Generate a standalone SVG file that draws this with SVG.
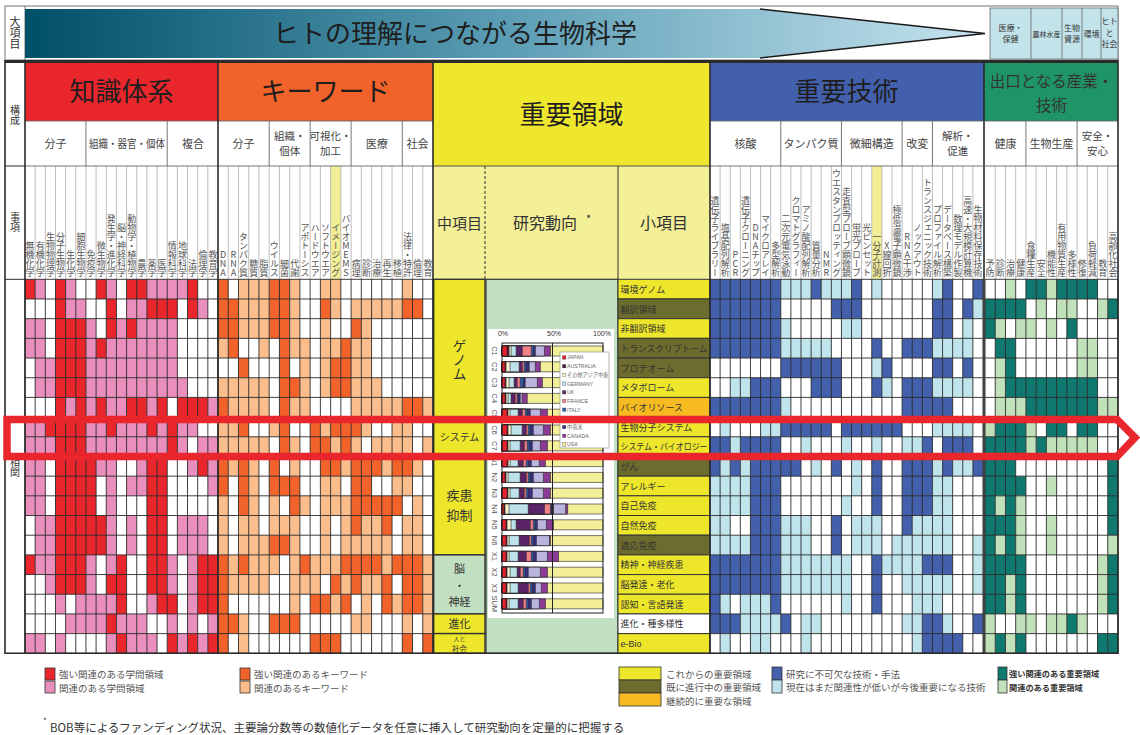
<svg xmlns="http://www.w3.org/2000/svg" width="1140" height="735" viewBox="0 0 1140 735">
<defs>
<linearGradient id="arrowGrad" x1="25" y1="0" x2="985" y2="0" gradientUnits="userSpaceOnUse">
<stop offset="0" stop-color="#004f68"/>
<stop offset="0.5" stop-color="#5b9db5"/>
<stop offset="1" stop-color="#c6e3ee"/>
</linearGradient>
</defs>
<style>
text{font-family:"Noto Sans CJK JP","Noto Sans",sans-serif;fill:#333}
.lat{font-family:"Liberation Sans",Arial,sans-serif}
.v{writing-mode:vertical-rl;text-orientation:upright;text-anchor:end;font-size:9px;fill:#555}
.vm{writing-mode:vertical-rl;text-orientation:upright;text-anchor:middle}
.ttl{font-size:26px;text-anchor:middle;fill:#1e1e1e}
.sub{font-size:11px;text-anchor:middle;fill:#444}
.sub2{font-size:10.5px;text-anchor:middle;fill:#444}
.gl{fill:none;stroke:#2b2b2b;stroke-width:0.9;vector-effect:non-scaling-stroke}
.hl{fill:none;stroke:#a0a0a0;stroke-width:0.7;vector-effect:non-scaling-stroke}
.ml{fill:none;stroke:#666;stroke-width:0.9;vector-effect:non-scaling-stroke}
.R{fill:#e9262c}.P{fill:#ea8fbd}.O{fill:#f1632b}.L{fill:#fbbd8b}.B{fill:#4360ad}.C{fill:#bfe4ec}.G{fill:#10796f}.g{fill:#c1e1bb}
.Y{fill:#ede62b}.Ol{fill:#6b6c2e}.Gd{fill:#f7bb22}
.item{font-size:9px;fill:#333}
.leg{font-size:9.5px;fill:#555}
.bar{stroke:#222;stroke-width:0.6;vector-effect:non-scaling-stroke}
.lg{font-size:5.2px;fill:#666}
.sw{stroke:#333;stroke-width:0.3}
.cl{font-size:7.5px;fill:#555;text-anchor:middle;dominant-baseline:central}
.box{stroke:#333;stroke-width:1.4}
</style>

<g id="banner">
<rect x="5" y="6" width="1113" height="54" fill="#fff" stroke="#777" stroke-width="1"/>
<line x1="25" y1="6" x2="25" y2="60" stroke="#777"/>
<text class="vm" x="15" y="33" font-size="11" fill="#444">大項目</text>
<path d="M25 9H760L985 33.5L760 58H25Z" fill="url(#arrowGrad)"/>
<path d="M760 9L985 33.5L760 58" fill="none" stroke="#1a1a1a" stroke-width="1.6"/>
<text class="ttl" x="455" y="43">ヒトの理解につながる生物科学</text>
<g id="banner-categories">
<rect x="990" y="8" width="128" height="51" fill="#c3e3eb" stroke="#666" stroke-width="0.8"/>
<path d="M1031 8V59M1062 8V59M1082 8V59M1101 8V59" stroke="#666" stroke-width="0.8"/>
<text font-size="8" text-anchor="middle" fill="#444"><tspan x="1010.5" y="31">医療・</tspan><tspan x="1010.5" y="42">保健</tspan></text>
<text x="1046.5" y="37" font-size="7" text-anchor="middle" fill="#444">農林水産</text>
<text font-size="8" text-anchor="middle" fill="#444"><tspan x="1072" y="31">生物</tspan><tspan x="1072" y="42">資源</tspan></text>
<text x="1091.5" y="37" font-size="8" text-anchor="middle" fill="#444">環境</text>
<text font-size="8" text-anchor="middle" fill="#444"><tspan x="1109.5" y="24">ヒト</tspan><tspan x="1109.5" y="35.5">と</tspan><tspan x="1109.5" y="47">社会</tspan></text>
</g>
</g>
<rect x="5" y="60" width="1113" height="3" fill="#2b2b2b"/>

<g id="left-labels">
<rect x="5" y="63" width="20" height="590.3" fill="#fff"/>
<text class="vm" x="15" y="115" font-size="10" fill="#555">構成</text>
<text class="vm" x="15" y="222" font-size="10" fill="#555">事項</text>
<text class="vm" x="15" y="467" font-size="10" fill="#555">相関</text>
</g>

<g id="sec-knowledge">
<rect x="25" y="63" width="193" height="58" class="R"/>
<text class="ttl" x="121.5" y="101">知識体系</text>
<rect x="25" y="121" width="193" height="158.3" fill="#fff"/>
<text class="sub" x="55.5" y="147.5">分子</text>
<text class="sub" x="127" y="147.5" textLength="76" lengthAdjust="spacingAndGlyphs">組織・器官・個体</text>
<text class="sub" x="193" y="147.5">複合</text>
<text class="v" x="30.1" y="277">無機化学</text>
<text class="v" x="40.2" y="277">有機化学</text>
<text class="v" x="50.4" y="277">生物物理学</text>
<text class="v" x="60.6" y="277">分子生物学</text>
<text class="v" x="70.7" y="277">生化学</text>
<text class="v" x="80.9" y="277">細胞生物学</text>
<text class="v" x="91.0" y="277">免疫学</text>
<text class="v" x="101.2" y="277">微生物学</text>
<text class="v" x="111.3" y="277">発生学・進化学</text>
<text class="v" x="121.5" y="277">脳・神経科学</text>
<text class="v" x="131.7" y="277">動物学・植物学</text>
<text class="v" x="141.8" y="277">農学</text>
<text class="v" x="152.0" y="277">薬学</text>
<text class="v" x="162.1" y="277">医学</text>
<text class="v" x="172.3" y="277">情報科学</text>
<text class="v" x="182.5" y="277">地球科学</text>
<text class="v" x="192.6" y="277">法学</text>
<text class="v" x="202.8" y="277">倫理学</text>
<text class="v" x="212.9" y="277">教育学</text>
<g transform="translate(25,279.3) scale(10.158,19.684)">
<rect width="19" height="19" fill="#fff"/>
<path class="R" d="M0 0h1v1h-1zM3 0h1v1h-1zM7 0h1v1h-1zM10 0h2v1h-2zM16 0h1v1h-1zM3 1h1v1h-1zM8 1h1v1h-1zM12 1h3v1h-3zM16 1h1v1h-1zM3 2h3v1h-3zM8 2h1v1h-1zM10 2h1v1h-1zM3 3h3v1h-3zM7 3h1v1h-1zM3 4h3v1h-3zM3 5h3v1h-3zM3 6h1v1h-1zM5 6h1v1h-1zM7 6h1v1h-1zM10 6h2v1h-2zM13 6h1v1h-1zM15 6h3v1h-3zM2 7h4v1h-4zM8 7h1v1h-1zM12 7h1v1h-1zM14 7h1v1h-1zM3 8h3v1h-3zM14 8h1v1h-1zM3 9h4v1h-4zM12 9h2v1h-2zM17 9h1v1h-1zM3 10h4v1h-4zM12 10h2v1h-2zM3 11h4v1h-4zM12 11h2v1h-2zM3 12h5v1h-5zM12 12h2v1h-2zM3 13h5v1h-5zM12 13h2v1h-2zM0 14h1v1h-1zM3 14h3v1h-3zM9 14h1v1h-1zM12 14h2v1h-2zM17 14h2v1h-2zM3 15h3v1h-3zM8 15h2v1h-2zM12 15h2v1h-2zM17 15h2v1h-2zM9 16h1v1h-1zM13 16h2v1h-2zM17 16h2v1h-2zM8 17h1v1h-1zM9 18h1v1h-1zM14 18h1v1h-1zM16 18h1v1h-1zM18 18h1v1h-1z"/>
<path class="P" d="M1 0h1v1h-1zM4 0h1v1h-1zM8 0h1v1h-1zM12 0h4v1h-4zM4 1h2v1h-2zM10 1h2v1h-2zM17 1h1v1h-1zM0 2h2v1h-2zM6 2h1v1h-1zM9 2h1v1h-1zM11 2h4v1h-4zM0 3h2v1h-2zM6 3h1v1h-1zM8 3h7v1h-7zM1 4h2v1h-2zM6 4h9v1h-9zM1 5h2v1h-2zM6 5h10v1h-10zM4 6h1v1h-1zM6 6h1v1h-1zM8 6h2v1h-2zM12 6h1v1h-1zM18 6h1v1h-1zM0 7h2v1h-2zM6 7h2v1h-2zM9 7h3v1h-3zM13 7h1v1h-1zM15 7h2v1h-2zM0 8h3v1h-3zM6 8h8v1h-8zM15 8h1v1h-1zM17 8h2v1h-2zM0 9h2v1h-2zM7 9h2v1h-2zM11 9h1v1h-1zM16 9h1v1h-1zM18 9h1v1h-1zM0 10h2v1h-2zM8 10h1v1h-1zM10 10h2v1h-2zM18 10h1v1h-1zM0 11h2v1h-2zM8 11h1v1h-1zM1 12h2v1h-2zM8 12h1v1h-1zM10 12h1v1h-1zM15 12h3v1h-3zM1 13h2v1h-2zM8 13h1v1h-1zM10 13h1v1h-1zM15 13h3v1h-3zM1 14h2v1h-2zM6 14h1v1h-1zM8 14h1v1h-1zM14 14h1v1h-1zM16 14h1v1h-1zM2 15h1v1h-1zM6 15h1v1h-1zM14 15h1v1h-1zM16 15h1v1h-1zM3 16h1v1h-1zM5 16h4v1h-4zM12 16h1v1h-1zM16 16h1v1h-1zM4 17h4v1h-4zM9 17h3v1h-3zM14 17h1v1h-1zM16 17h1v1h-1zM18 17h1v1h-1zM0 18h2v1h-2zM3 18h1v1h-1zM8 18h1v1h-1zM10 18h3v1h-3zM15 18h1v1h-1zM17 18h1v1h-1z"/>
<path class="hl" d="M1 -5.756V0M2 -5.756V0M3 -5.756V0M4 -5.756V0M5 -5.756V0M6 -5.756V0M7 -5.756V0M8 -5.756V0M9 -5.756V0M10 -5.756V0M11 -5.756V0M12 -5.756V0M13 -5.756V0M14 -5.756V0M15 -5.756V0M16 -5.756V0M17 -5.756V0M18 -5.756V0"/>
<path class="ml" d="M0 -8.042H19M0 -5.756H19M6 -8.042V-5.756M14 -8.042V-5.756"/>
<path class="gl" d="M0 0V19M1 0V19M2 0V19M3 0V19M4 0V19M5 0V19M6 0V19M7 0V19M8 0V19M9 0V19M10 0V19M11 0V19M12 0V19M13 0V19M14 0V19M15 0V19M16 0V19M17 0V19M18 0V19M19 0V19M0 0H19M0 1H19M0 2H19M0 3H19M0 4H19M0 5H19M0 6H19M0 7H19M0 8H19M0 9H19M0 10H19M0 11H19M0 12H19M0 13H19M0 14H19M0 15H19M0 16H19M0 17H19M0 18H19M0 19H19"/>
</g>
</g>

<g id="sec-keywords">
<rect x="218" y="63" width="215" height="58" class="O"/>
<text class="ttl" x="325.5" y="101">キーワード</text>
<rect x="218" y="121" width="215" height="158.3" fill="#fff"/>
<rect x="330.6" y="166" width="10.24" height="113.3" fill="#f3ef96"/>
<text class="sub" x="243.6" y="147.5">分子</text>
<text class="sub2"><tspan x="289.7" y="140">組織・</tspan><tspan x="289.7" y="155">個体</tspan></text>
<text class="sub2"><tspan x="330.6" y="140">可視化・</tspan><tspan x="330.6" y="155">加工</tspan></text>
<text class="sub" x="376.7" y="147.5">医療</text>
<text class="sub" x="417.6" y="147.5">社会</text>
<text class="v" x="223.1" y="277">DNA</text>
<text class="v" x="233.4" y="277">RNA</text>
<text class="v" x="243.6" y="277">タンパク質</text>
<text class="v" x="253.8" y="277">糖質</text>
<text class="v" x="264.1" y="277">脂質</text>
<text class="v" x="274.3" y="277">ウイルス</text>
<text class="v" x="284.5" y="277">細菌</text>
<text class="v" x="294.8" y="277">代謝</text>
<text class="v" x="305.0" y="277">アポトーシス</text>
<text class="v" x="315.3" y="277">ハードウエア</text>
<text class="v" x="325.5" y="277">ソフトウエア</text>
<text class="v" x="335.7" y="277">イメージング</text>
<text class="v" x="346.0" y="277">バイオMEMS</text>
<text class="v" x="356.2" y="277">病理</text>
<text class="v" x="366.5" y="277">診断</text>
<text class="v" x="376.7" y="277">治療</text>
<text class="v" x="386.9" y="277">再生</text>
<text class="v" x="397.2" y="277">移植</text>
<text class="v" x="407.4" y="277">法律・特許</text>
<text class="v" x="417.6" y="277">倫理</text>
<text class="v" x="427.9" y="277">教育</text>
<g transform="translate(218,279.3) scale(10.238,19.684)">
<rect width="21" height="19" fill="#fff"/>
<path class="O" d="M0 0h1v1h-1zM5 0h2v1h-2zM0 1h2v1h-2zM5 1h2v1h-2zM10 1h1v1h-1zM18 1h2v1h-2zM0 2h2v1h-2zM5 2h2v1h-2zM13 2h1v1h-1zM1 3h1v1h-1zM6 3h1v1h-1zM12 3h1v1h-1zM2 4h1v1h-1zM6 4h1v1h-1zM11 4h2v1h-2zM6 5h2v1h-2zM11 5h2v1h-2zM0 6h1v1h-1zM6 6h1v1h-1zM18 6h2v1h-2zM2 7h1v1h-1zM6 7h1v1h-1zM9 7h1v1h-1zM11 7h3v1h-3zM6 8h1v1h-1zM9 8h2v1h-2zM12 8h1v1h-1zM0 9h1v1h-1zM2 9h1v1h-1zM5 9h1v1h-1zM10 9h2v1h-2zM13 9h3v1h-3zM17 9h2v1h-2zM0 10h1v1h-1zM2 10h1v1h-1zM5 10h3v1h-3zM13 10h2v1h-2zM2 11h1v1h-1zM7 11h1v1h-1zM13 11h5v1h-5zM13 12h1v1h-1zM16 12h1v1h-1zM5 13h2v1h-2zM0 14h1v1h-1zM2 14h1v1h-1zM8 14h1v1h-1zM12 14h4v1h-4zM17 14h3v1h-3zM0 15h1v1h-1zM11 15h1v1h-1zM13 15h1v1h-1zM16 15h1v1h-1zM18 15h2v1h-2zM0 16h1v1h-1zM9 16h2v1h-2zM12 16h1v1h-1zM16 16h1v1h-1zM18 16h2v1h-2zM0 17h2v1h-2zM5 17h3v1h-3zM0 18h1v1h-1zM9 18h3v1h-3zM18 18h1v1h-1zM20 18h1v1h-1z"/>
<path class="L" d="M2 0h3v1h-3zM7 0h1v1h-1zM10 0h2v1h-2zM18 0h1v1h-1zM2 1h3v1h-3zM7 1h1v1h-1zM11 1h1v1h-1zM13 1h5v1h-5zM2 2h3v1h-3zM7 2h1v1h-1zM10 2h1v1h-1zM14 2h1v1h-1zM0 3h1v1h-1zM4 3h1v1h-1zM7 3h2v1h-2zM10 3h2v1h-2zM13 3h2v1h-2zM8 4h1v1h-1zM10 4h1v1h-1zM13 4h2v1h-2zM0 5h5v1h-5zM8 5h1v1h-1zM10 5h1v1h-1zM13 5h3v1h-3zM1 6h4v1h-4zM7 6h2v1h-2zM13 6h5v1h-5zM20 6h1v1h-1zM0 7h2v1h-2zM5 7h1v1h-1zM10 7h1v1h-1zM14 7h1v1h-1zM17 7h2v1h-2zM0 8h5v1h-5zM7 8h1v1h-1zM11 8h1v1h-1zM13 8h1v1h-1zM15 8h4v1h-4zM20 8h1v1h-1zM1 9h1v1h-1zM3 9h1v1h-1zM7 9h1v1h-1zM12 9h1v1h-1zM16 9h1v1h-1zM19 9h1v1h-1zM3 10h1v1h-1zM10 10h2v1h-2zM17 10h2v1h-2zM0 11h1v1h-1zM3 11h1v1h-1zM5 11h1v1h-1zM8 11h1v1h-1zM10 11h3v1h-3zM19 11h1v1h-1zM0 12h1v1h-1zM2 12h2v1h-2zM5 12h3v1h-3zM10 12h1v1h-1zM12 12h1v1h-1zM14 12h2v1h-2zM18 12h2v1h-2zM0 13h1v1h-1zM2 13h3v1h-3zM7 13h1v1h-1zM10 13h1v1h-1zM12 13h5v1h-5zM18 13h2v1h-2zM1 14h1v1h-1zM3 14h3v1h-3zM7 14h1v1h-1zM9 14h3v1h-3zM16 14h1v1h-1zM20 14h1v1h-1zM1 15h4v1h-4zM7 15h3v1h-3zM12 15h1v1h-1zM14 15h2v1h-2zM20 15h1v1h-1zM7 16h1v1h-1zM11 16h1v1h-1zM14 16h1v1h-1zM17 16h1v1h-1zM20 16h1v1h-1zM2 17h1v1h-1zM13 17h2v1h-2zM18 17h1v1h-1zM20 17h1v1h-1zM2 18h1v1h-1z"/>
<path class="hl" d="M1 -5.756V0M2 -5.756V0M3 -5.756V0M4 -5.756V0M5 -5.756V0M6 -5.756V0M7 -5.756V0M8 -5.756V0M9 -5.756V0M10 -5.756V0M11 -5.756V0M12 -5.756V0M13 -5.756V0M14 -5.756V0M15 -5.756V0M16 -5.756V0M17 -5.756V0M18 -5.756V0M19 -5.756V0M20 -5.756V0"/>
<path class="ml" d="M0 -8.042H21M0 -5.756H21M5 -8.042V-5.756M9 -8.042V-5.756M13 -8.042V-5.756M18 -8.042V-5.756"/>
<path class="gl" d="M0 0V19M1 0V19M2 0V19M3 0V19M4 0V19M5 0V19M6 0V19M7 0V19M8 0V19M9 0V19M10 0V19M11 0V19M12 0V19M13 0V19M14 0V19M15 0V19M16 0V19M17 0V19M18 0V19M19 0V19M20 0V19M21 0V19M0 0H21M0 1H21M0 2H21M0 3H21M0 4H21M0 5H21M0 6H21M0 7H21M0 8H21M0 9H21M0 10H21M0 11H21M0 12H21M0 13H21M0 14H21M0 15H21M0 16H21M0 17H21M0 18H21M0 19H21"/>
</g>
</g>

<g id="sec-domains">
<rect x="433" y="63" width="277" height="103" fill="#efe62e"/>
<text class="ttl" x="571.5" y="124">重要領域</text>
<rect x="433" y="166" width="277" height="113.3" fill="#f4f097"/>
<line x1="433" y1="166" x2="710" y2="166" stroke="#555" stroke-width="1"/>
<line x1="485" y1="166" x2="485" y2="279" stroke="#333" stroke-width="1" stroke-dasharray="3,2"/>
<line x1="618" y1="166" x2="618" y2="279" stroke="#333" stroke-width="1"/>
<text x="459.5" y="229" font-size="15" text-anchor="middle">中項目</text>
<text x="545" y="229" font-size="16" text-anchor="middle">研究動向</text>
<text x="586" y="223" font-size="11">*</text>
<text x="664" y="229" font-size="16" text-anchor="middle">小項目</text>
<g id="mid-items">
<g id="mid-genome"><rect class="Y box" x="433.7" y="279.3" width="51.3" height="137.8"/><text class="vm" x="459.5" y="360" font-size="14">ゲノム</text></g>
<g id="mid-system"><rect class="Y box" x="433.7" y="417.1" width="51.3" height="39.4"/><text x="459.5" y="441" font-size="10" text-anchor="middle">システム</text></g>
<g id="mid-disease"><rect class="Y box" x="433.7" y="456.5" width="51.3" height="98.4"/><text font-size="13" text-anchor="middle"><tspan x="459.5" y="500">疾患</tspan><tspan x="459.5" y="519.5">抑制</tspan></text></g>
<g id="mid-brain"><rect class="box" fill="#c2dfc2" x="433.7" y="554.9" width="51.3" height="59"/><text font-size="11" text-anchor="middle"><tspan x="459.5" y="573">脳</tspan><tspan x="459.5" y="589.5">・</tspan><tspan x="459.5" y="606">神経</tspan></text></g>
<g id="mid-evolution"><rect class="Y box" x="433.7" y="613.9" width="51.3" height="19.7"/><text x="459.5" y="628" font-size="11" text-anchor="middle">進化</text></g>
<g id="mid-society"><rect class="Y box" x="433.7" y="633.6" width="51.3" height="19.7"/><text text-anchor="middle"><tspan x="459.5" y="641" font-size="6">人と</tspan><tspan x="459.5" y="651.5" font-size="7.5">社会</tspan></text></g>
</g>
<rect x="486" y="279.3" width="132" height="374" fill="#c2e0c3" stroke="#333" stroke-width="1.2"/>
<g id="trend-chart">
<rect x="488" y="329" width="126" height="289" fill="#fff"/>
<text class="lat" x="503" y="335.5" font-size="7" text-anchor="middle" fill="#555">0%</text>
<text class="lat" x="554" y="335.5" font-size="7" text-anchor="middle" fill="#555">50%</text>
<text class="lat" x="602" y="335.5" font-size="7" text-anchor="middle" fill="#555">100%</text>
<g transform="translate(502,346) scale(1.01,1)">
<path class="bar" fill="#f3ef99" d="M0 0h100v10H0zM0 15.8h100v10H0zM0 31.6h100v10H0zM0 47.4h100v10H0zM0 63.2h100v10H0zM0 79h100v10H0zM0 94.8h100v10H0zM0 110.6h100v10H0zM0 126.4h100v10H0zM0 142.2h100v10H0zM0 158h100v10H0zM0 173.8h100v10H0zM0 189.6h100v10H0zM0 205.4h100v10H0zM0 221.2h100v10H0zM0 237h100v10H0zM0 252.8h100v10H0z"/>
<path class="bar" fill="#8b3a96" d="M0 0h48v10H0zM0 15.8h38v10H0zM0 31.6h40v10H0zM0 47.4h25v10H0zM0 63.2h45v10H0zM0 79h48v10H0zM0 94.8h45v10H0zM0 110.6h43v10H0zM0 126.4h48v10H0zM0 142.2h48v10H0zM0 158h65v10H0zM0 173.8h51v10H0zM0 189.6h48v10H0zM0 205.4h56v10H0zM0 221.2h45v10H0zM0 237h45v10H0zM0 252.8h43v10H0z"/>
<path class="bar" fill="#b9b5de" d="M0 0h42v10H0zM0 15.8h33v10H0zM0 31.6h35v10H0zM0 47.4h20v10H0zM0 63.2h38v10H0zM0 79h41v10H0zM0 94.8h38v10H0zM0 110.6h37v10H0zM0 126.4h41v10H0zM0 142.2h41v10H0zM0 158h63v10H0zM0 173.8h44v10H0zM0 189.6h47v10H0zM0 205.4h45v10H0zM0 221.2h38v10H0zM0 237h39v10H0zM0 252.8h37v10H0z"/>
<path class="bar" fill="#3b2f7f" d="M0 0h33v10H0zM0 15.8h27v10H0zM0 31.6h23v10H0zM0 47.4h18v10H0zM0 63.2h28v10H0zM0 79h31v10H0zM0 94.8h30v10H0zM0 110.6h29v10H0zM0 126.4h31v10H0zM0 142.2h30v10H0zM0 158h51v10H0zM0 173.8h35v10H0zM0 189.6h34v10H0zM0 205.4h34v10H0zM0 221.2h26v10H0zM0 237h33v10H0zM0 252.8h29v10H0z"/>
<path class="bar" fill="#2f62ad" d="M0 0h31v10H0zM0 15.8h24v10H0zM0 31.6h21v10H0zM0 47.4h16v10H0zM0 63.2h25v10H0zM0 79h28v10H0zM0 94.8h27v10H0zM0 110.6h26v10H0zM0 126.4h28v10H0zM0 142.2h26v10H0zM0 158h49v10H0zM0 173.8h33v10H0zM0 189.6h31v10H0zM0 205.4h31v10H0zM0 221.2h23v10H0zM0 237h30v10H0zM0 252.8h26v10H0z"/>
<path class="bar" fill="#f08187" d="M0 0h29v10H0zM0 15.8h22v10H0zM0 31.6h18v10H0zM0 47.4h15v10H0zM0 63.2h23v10H0zM0 79h26v10H0zM0 94.8h25v10H0zM0 110.6h24v10H0zM0 126.4h26v10H0zM0 142.2h24v10H0zM0 158h48v10H0zM0 173.8h31v10H0zM0 189.6h29v10H0zM0 205.4h29v10H0zM0 221.2h21v10H0zM0 237h28v10H0zM0 252.8h24v10H0z"/>
<path class="bar" fill="#5c2468" d="M0 0h20v10H0zM0 15.8h20v10H0zM0 31.6h15v10H0zM0 47.4h13v10H0zM0 63.2h20v10H0zM0 79h24v10H0zM0 94.8h22v10H0zM0 110.6h21v10H0zM0 126.4h24v10H0zM0 142.2h22v10H0zM0 158h42v10H0zM0 173.8h28v10H0zM0 189.6h27v10H0zM0 205.4h24v10H0zM0 221.2h18v10H0zM0 237h26v10H0zM0 252.8h21v10H0z"/>
<path class="bar" fill="#bde2ea" d="M0 0h14v10H0zM0 15.8h17v10H0zM0 31.6h12v10H0zM0 47.4h9v10H0zM0 63.2h16v10H0zM0 79h20v10H0zM0 94.8h18v10H0zM0 110.6h16v10H0zM0 126.4h18v10H0zM0 142.2h17v10H0zM0 158h26v10H0zM0 173.8h14v10H0zM0 189.6h17v10H0zM0 205.4h16v10H0zM0 221.2h15v10H0zM0 237h16v10H0zM0 252.8h16v10H0z"/>
<path class="bar" fill="#f7f4cf" d="M0 0h9v10H0zM0 15.8h8v10H0zM0 31.6h7v10H0zM0 47.4h6v10H0zM0 63.2h8v10H0zM0 79h9v10H0zM0 94.8h8v10H0zM0 110.6h8v10H0zM0 126.4h6v10H0zM0 142.2h8v10H0zM0 158h7v10H0zM0 173.8h9v10H0zM0 189.6h7v10H0zM0 205.4h7v10H0zM0 221.2h8v10H0zM0 237h8v10H0zM0 252.8h7v10H0z"/>
<path class="bar" fill="#4b1d3f" d="M0 0h7v10H0zM0 15.8h4v10H0zM0 31.6h4v10H0zM0 47.4h4v10H0zM0 63.2h6v10H0zM0 79h6v10H0zM0 94.8h6v10H0zM0 110.6h6v10H0zM0 126.4h4v10H0zM0 142.2h6v10H0zM0 158h3v10H0zM0 173.8h5v10H0zM0 189.6h5v10H0zM0 205.4h5v10H0zM0 221.2h5v10H0zM0 237h5v10H0zM0 252.8h5v10H0z"/>
<path class="bar" fill="#e8202a" d="M0 0h5v10H0zM0 15.8h3v10H0zM0 31.6h3v10H0zM0 47.4h3v10H0zM0 63.2h5v10H0zM0 79h5v10H0zM0 94.8h5v10H0zM0 110.6h5v10H0zM0 126.4h3v10H0zM0 142.2h5v10H0zM0 158h2v10H0zM0 173.8h4v10H0zM0 189.6h4v10H0zM0 205.4h4v10H0zM0 221.2h4v10H0zM0 237h4v10H0zM0 252.8h4v10H0z"/>
</g>
<rect x="502" y="343" width="101" height="270" fill="none" stroke="#222" stroke-width="1"/>
<line x1="552.5" y1="343" x2="552.5" y2="613" stroke="#222" stroke-width="1"/>
<g class="lat">
<text class="cl lat" transform="rotate(90 494 351)" x="494" y="351">C1</text>
<text class="cl lat" transform="rotate(90 494 366.8)" x="494" y="366.8">C2</text>
<text class="cl lat" transform="rotate(90 494 382.6)" x="494" y="382.6">C3</text>
<text class="cl lat" transform="rotate(90 494 398.4)" x="494" y="398.4">C4</text>
<text class="cl lat" transform="rotate(90 494 414.2)" x="494" y="414.2">C5</text>
<text class="cl lat" transform="rotate(90 494 430)" x="494" y="430">C6</text>
<text class="cl lat" transform="rotate(90 494 445.8)" x="494" y="445.8">C7</text>
<text class="cl lat" transform="rotate(90 494 461.6)" x="494" y="461.6">N1</text>
<text class="cl lat" transform="rotate(90 494 477.4)" x="494" y="477.4">N2</text>
<text class="cl lat" transform="rotate(90 494 493.2)" x="494" y="493.2">N3</text>
<text class="cl lat" transform="rotate(90 494 509)" x="494" y="509">N4</text>
<text class="cl lat" transform="rotate(90 494 524.8)" x="494" y="524.8">N5</text>
<text class="cl lat" transform="rotate(90 494 540.6)" x="494" y="540.6">N6</text>
<text class="cl lat" transform="rotate(90 494 556.4)" x="494" y="556.4">X1</text>
<text class="cl lat" transform="rotate(90 494 572.2)" x="494" y="572.2">X2</text>
<text class="cl lat" transform="rotate(90 494 588)" x="494" y="588">X3</text>
<text class="cl lat" transform="rotate(90 494 603.8)" x="494" y="603.8">SUM</text>
</g>
<g id="chart-legend">
<rect x="560" y="352" width="49" height="96" fill="#fff" stroke="#888" stroke-width="0.6"/>
<rect class="sw" x="562.5" y="355.8" width="3.4" height="3.4" fill="#e8202a"/><text class="lg lat" x="567" y="359.4">JAPAN</text>
<rect class="sw" x="562.5" y="364.5" width="3.4" height="3.4" fill="#4b1d3f"/><text class="lg lat" x="567" y="368.1">AUSTRALIA</text>
<rect class="sw" x="562.5" y="373.2" width="3.4" height="3.4" fill="#f7f4cf"/><text class="lg" x="567" y="376.8">その他アジア中東</text>
<rect class="sw" x="562.5" y="381.9" width="3.4" height="3.4" fill="#bde2ea"/><text class="lg lat" x="567" y="385.5">GERMANY</text>
<rect class="sw" x="562.5" y="390.6" width="3.4" height="3.4" fill="#5c2468"/><text class="lg lat" x="567" y="394.2">UK</text>
<rect class="sw" x="562.5" y="399.3" width="3.4" height="3.4" fill="#f08187"/><text class="lg lat" x="567" y="402.9">FRANCE</text>
<rect class="sw" x="562.5" y="408" width="3.4" height="3.4" fill="#2f62ad"/><text class="lg lat" x="567" y="411.6">ITALY</text>
<rect class="sw" x="562.5" y="425.4" width="3.4" height="3.4" fill="#3b2f7f"/><text class="lg" x="567" y="429">中南米</text>
<rect class="sw" x="562.5" y="434.1" width="3.4" height="3.4" fill="#8b3a96"/><text class="lg lat" x="567" y="437.7">CANADA</text>
<rect class="sw" x="562.5" y="442.8" width="3.4" height="3.4" fill="#f3ef99"/><text class="lg lat" x="567" y="446.4">USA</text>
</g>
</g>
<g id="sub-items" stroke="#333" stroke-width="1">
<rect class="Y" x="618" y="279.3" width="92" height="19.68"/>
<rect class="Ol" x="618" y="298.98" width="92" height="19.68"/>
<rect class="Y" x="618" y="318.67" width="92" height="19.68"/>
<rect class="Ol" x="618" y="338.35" width="92" height="19.68"/>
<rect class="Ol" x="618" y="358.04" width="92" height="19.68"/>
<rect class="Y" x="618" y="377.72" width="92" height="19.68"/>
<rect class="Gd" x="618" y="397.4" width="92" height="19.68"/>
<rect class="Y" x="618" y="417.09" width="92" height="19.68"/>
<rect class="Y" x="618" y="436.77" width="92" height="19.68"/>
<rect class="Ol" x="618" y="456.46" width="92" height="19.68"/>
<rect class="Y" x="618" y="476.14" width="92" height="19.68"/>
<rect class="Y" x="618" y="495.82" width="92" height="19.68"/>
<rect class="Y" x="618" y="515.51" width="92" height="19.68"/>
<rect class="Ol" x="618" y="535.19" width="92" height="19.68"/>
<rect class="Y" x="618" y="554.88" width="92" height="19.68"/>
<rect class="Y" x="618" y="574.56" width="92" height="19.68"/>
<rect class="Y" x="618" y="594.24" width="92" height="19.68"/>
<rect fill="#fff" x="618" y="613.93" width="92" height="19.68"/>
<rect class="Y" x="618" y="633.61" width="92" height="19.68"/>
</g>
<g id="sub-item-labels">
<text class="item" x="620.5" y="292.8">環境ゲノム</text>
<text class="item" x="620.5" y="312.5">翻訳領域</text>
<text class="item" x="620.5" y="332.2">非翻訳領域</text>
<text class="item" x="620.5" y="351.9" textLength="87" lengthAdjust="spacingAndGlyphs">トランスクリプトーム</text>
<text class="item" x="620.5" y="371.5">プロテオーム</text>
<text class="item" x="620.5" y="391.2">メタボローム</text>
<text class="item" x="620.5" y="410.9">バイオリソース</text>
<text class="item" x="620.5" y="430.6">生物分子システム</text>
<text class="item" x="620.5" y="450.3" textLength="87" lengthAdjust="spacingAndGlyphs">システム・バイオロジー</text>
<text class="item" x="620.5" y="470">がん</text>
<text class="item" x="620.5" y="489.6">アレルギー</text>
<text class="item" x="620.5" y="509.3">自己免疫</text>
<text class="item" x="620.5" y="529">自然免疫</text>
<text class="item" x="620.5" y="548.7">適応免疫</text>
<text class="item" x="620.5" y="568.4">精神・神経疾患</text>
<text class="item" x="620.5" y="588.1">脳発達・老化</text>
<text class="item" x="620.5" y="607.7">認知・言語発達</text>
<text class="item" x="620.5" y="627.4">進化・種多様性</text>
<text class="item lat" x="620.5" y="647.1">e-Bio</text>
</g>
</g>

<g id="sec-techniques">
<rect x="710" y="63" width="274" height="58" class="B"/>
<text class="ttl" x="846.5" y="101">重要技術</text>
<rect x="710" y="121" width="273" height="158.3" fill="#fff"/>
<rect x="871.8" y="166" width="10.11" height="113.3" fill="#f3ef96"/>
<text class="sub" x="745.4" y="147.5">核酸</text>
<text class="sub" x="811.1" y="147.5">タンパク質</text>
<text class="sub" x="871.8" y="147.5">微細構造</text>
<text class="sub" x="917.3" y="147.5">改変</text>
<text class="sub2"><tspan x="957.7" y="140">解析・</tspan><tspan x="957.7" y="155">促進</tspan></text>
<text class="v" x="715.1" y="277">遺伝子ライブラリー</text>
<text class="v" x="725.2" y="277">塩基配列解析</text>
<text class="v" x="735.3" y="277">PCR</text>
<text class="v" x="745.4" y="277">遺伝子クローニング</text>
<text class="v" x="755.5" y="277">DNAチップ</text>
<text class="v" x="765.6" y="277">マイクロアレイ</text>
<text class="v" x="775.7" y="277">多型解析</text>
<text class="v" x="785.8" y="277">二次元電気泳動</text>
<text class="v" x="795.9" y="277">クロマトグラフィー</text>
<text class="v" x="806.0" y="277">アミノ酸配列解析</text>
<text class="v" x="816.2" y="277">質量分析</text>
<text class="v" x="826.3" y="277">NMR</text>
<text class="v" x="836.4" y="277">ウエスタンブロッティング</text>
<text class="v" x="846.5" y="277">走査型プローブ顕微鏡</text>
<text class="v" x="856.6" y="277">蛍光プローブ</text>
<text class="v" x="866.7" y="277">光ピンセット</text>
<text class="v" x="876.8" y="277">一分子計測</text>
<text class="v" x="886.9" y="277">X線回折</text>
<text class="v" x="897.1" y="277">極低温電子顕微鏡</text>
<text class="v" x="907.2" y="277">RNA干渉</text>
<text class="v" x="917.3" y="277">ノックアウト</text>
<text class="v" x="927.4" y="277">トランスジェニック技術</text>
<text class="v" x="937.5" y="277">プロファイル解析</text>
<text class="v" x="947.6" y="277">データベース構築</text>
<text class="v" x="957.7" y="277">数理モデル作製</text>
<text class="v" x="967.8" y="277">高速・大規模計算機</text>
<text class="v" x="977.9" y="277">生物材料保存技術</text>
<g transform="translate(710,279.3) scale(10.111,19.684)">
<rect width="27" height="19" fill="#fff"/>
<path class="B" d="M0 0h7v1h-7zM10 0h1v1h-1zM14 0h1v1h-1zM23 0h1v1h-1zM26 0h1v1h-1zM0 1h7v1h-7zM12 1h3v1h-3zM22 1h2v1h-2zM25 1h1v1h-1zM0 2h7v1h-7zM22 2h2v1h-2zM0 3h7v1h-7zM16 3h1v1h-1zM19 3h3v1h-3zM7 4h6v1h-6zM17 4h1v1h-1zM22 4h2v1h-2zM25 4h1v1h-1zM4 5h3v1h-3zM10 5h3v1h-3zM16 5h1v1h-1zM19 5h3v1h-3zM0 6h7v1h-7zM19 6h5v1h-5zM7 7h5v1h-5zM13 7h6v1h-6zM0 8h2v1h-2zM3 8h4v1h-4zM21 8h1v1h-1zM23 8h3v1h-3zM0 9h1v1h-1zM2 9h1v1h-1zM4 9h5v1h-5zM12 9h1v1h-1zM16 9h1v1h-1zM19 9h3v1h-3zM23 9h1v1h-1zM26 9h1v1h-1zM4 10h3v1h-3zM16 10h1v1h-1zM19 10h3v1h-3zM4 11h3v1h-3zM16 11h1v1h-1zM19 11h3v1h-3zM4 12h3v1h-3zM12 12h1v1h-1zM19 12h1v1h-1zM4 13h3v1h-3zM12 13h1v1h-1zM0 14h7v1h-7zM16 14h1v1h-1zM21 14h3v1h-3zM0 15h7v1h-7zM16 15h1v1h-1zM0 16h1v1h-1zM6 16h1v1h-1zM16 16h1v1h-1zM0 17h3v1h-3zM7 17h1v1h-1zM21 17h2v1h-2zM26 17h1v1h-1zM21 18h4v1h-4z"/>
<path class="C" d="M7 0h3v1h-3zM11 0h3v1h-3zM16 0h1v1h-1zM22 0h1v1h-1zM26 1h1v1h-1zM7 2h1v1h-1zM13 2h2v1h-2zM25 2h1v1h-1zM7 3h5v1h-5zM22 3h4v1h-4zM16 4h1v1h-1zM2 5h2v1h-2zM17 5h1v1h-1zM22 5h4v1h-4zM7 6h1v1h-1zM1 7h1v1h-1zM5 7h2v1h-2zM22 7h4v1h-4zM2 8h1v1h-1zM9 8h1v1h-1zM13 8h1v1h-1zM16 8h1v1h-1zM19 8h2v1h-2zM1 9h1v1h-1zM3 9h1v1h-1zM10 9h1v1h-1zM14 9h1v1h-1zM22 9h1v1h-1zM24 9h2v1h-2zM0 10h4v1h-4zM14 10h1v1h-1zM22 10h2v1h-2zM0 11h4v1h-4zM13 11h1v1h-1zM22 11h2v1h-2zM0 12h2v1h-2zM7 12h3v1h-3zM14 12h3v1h-3zM20 12h4v1h-4zM0 13h4v1h-4zM7 13h3v1h-3zM14 13h3v1h-3zM18 13h6v1h-6zM26 13h1v1h-1zM7 14h7v1h-7zM17 14h4v1h-4zM26 14h1v1h-1zM7 15h7v1h-7zM19 15h5v1h-5zM26 15h1v1h-1zM1 16h1v1h-1zM3 16h3v1h-3zM13 16h1v1h-1zM20 16h3v1h-3zM3 17h4v1h-4zM9 17h2v1h-2zM19 17h2v1h-2zM23 17h1v1h-1zM1 18h1v1h-1zM4 18h2v1h-2zM9 18h1v1h-1zM20 18h1v1h-1z"/>
<path class="hl" d="M1 -5.756V0M2 -5.756V0M3 -5.756V0M4 -5.756V0M5 -5.756V0M6 -5.756V0M7 -5.756V0M8 -5.756V0M9 -5.756V0M10 -5.756V0M11 -5.756V0M12 -5.756V0M13 -5.756V0M14 -5.756V0M15 -5.756V0M16 -5.756V0M17 -5.756V0M18 -5.756V0M19 -5.756V0M20 -5.756V0M21 -5.756V0M22 -5.756V0M23 -5.756V0M24 -5.756V0M25 -5.756V0M26 -5.756V0"/>
<path class="ml" d="M0 -8.042H27M0 -5.756H27M7 -8.042V-5.756M13 -8.042V-5.756M19 -8.042V-5.756M22 -8.042V-5.756"/>
<path class="gl" d="M0 0V19M1 0V19M2 0V19M3 0V19M4 0V19M5 0V19M6 0V19M7 0V19M8 0V19M9 0V19M10 0V19M11 0V19M12 0V19M13 0V19M14 0V19M15 0V19M16 0V19M17 0V19M18 0V19M19 0V19M20 0V19M21 0V19M22 0V19M23 0V19M24 0V19M25 0V19M26 0V19M27 0V19M0 0H27M0 1H27M0 2H27M0 3H27M0 4H27M0 5H27M0 6H27M0 7H27M0 8H27M0 9H27M0 10H27M0 11H27M0 12H27M0 13H27M0 14H27M0 15H27M0 16H27M0 17H27M0 18H27M0 19H27"/>
</g>
</g>

<g id="sec-industries">
<rect x="984" y="63" width="134" height="58" fill="#1f9466"/>
<text font-size="15.5" text-anchor="middle" fill="#1e1e1e"><tspan x="1051.5" y="87">出口となる産業・</tspan><tspan x="1051.5" y="111">技術</tspan></text>
<rect x="985" y="121" width="133" height="158.3" fill="#fff"/>
<text class="sub" x="1005.5" y="147.5">健康</text>
<text class="sub" x="1051.5" y="147.5">生物生産</text>
<text class="sub2"><tspan x="1097.6" y="140">安全・</tspan><tspan x="1097.6" y="155">安心</tspan></text>
<text class="v" x="990.1" y="277">予防</text>
<text class="v" x="1000.3" y="277">診断</text>
<text class="v" x="1010.6" y="277">治療</text>
<text class="v" x="1020.8" y="277">健康</text>
<text class="v" x="1031.0" y="277">食糧生産</text>
<text class="v" x="1041.3" y="277">安全</text>
<text class="v" x="1051.5" y="277">機能性</text>
<text class="v" x="1061.7" y="277">有用物質生産</text>
<text class="v" x="1072.0" y="277">多様性</text>
<text class="v" x="1082.2" y="277">修復</text>
<text class="v" x="1092.4" y="277">負荷軽減</text>
<text class="v" x="1102.7" y="277">教育</text>
<text class="v" x="1112.9" y="277">高齢化社会</text>
<g transform="translate(985,279.3) scale(10.231,19.684)">
<rect width="13" height="19" fill="#fff"/>
<path class="G" d="M4 0h2v1h-2zM7 0h4v1h-4zM0 1h4v1h-4zM12 1h1v1h-1zM0 2h1v1h-1zM8 2h1v1h-1zM1 3h2v1h-2zM2 4h1v1h-1zM2 5h9v1h-9zM4 6h7v1h-7zM1 7h3v1h-3zM6 7h2v1h-2zM9 7h2v1h-2zM0 8h4v1h-4zM5 8h1v1h-1zM0 9h3v1h-3zM12 9h1v1h-1zM0 10h4v1h-4zM12 10h1v1h-1zM0 11h1v1h-1zM2 11h1v1h-1zM12 11h1v1h-1zM0 12h3v1h-3zM12 12h1v1h-1zM0 13h1v1h-1zM2 13h1v1h-1zM0 14h4v1h-4zM12 14h1v1h-1zM0 15h2v1h-2zM3 15h1v1h-1zM12 15h1v1h-1zM0 16h2v1h-2zM3 16h1v1h-1zM12 16h1v1h-1zM8 17h1v1h-1zM1 18h1v1h-1zM3 18h1v1h-1zM11 18h2v1h-2z"/>
<path class="g" d="M2 0h1v1h-1zM6 0h1v1h-1zM5 1h1v1h-1zM7 1h2v1h-2zM11 1h1v1h-1zM1 2h1v1h-1zM3 2h2v1h-2zM6 2h1v1h-1zM9 3h2v1h-2zM1 4h1v1h-1zM9 4h2v1h-2zM1 5h1v1h-1zM1 6h3v1h-3zM11 6h2v1h-2zM0 7h1v1h-1zM4 7h1v1h-1zM4 8h1v1h-1zM6 8h5v1h-5zM6 10h1v1h-1zM1 11h1v1h-1zM3 11h1v1h-1zM3 12h1v1h-1zM6 12h1v1h-1zM1 13h1v1h-1zM3 13h1v1h-1zM6 13h1v1h-1zM12 13h1v1h-1zM11 14h1v1h-1zM2 15h1v1h-1zM11 15h1v1h-1zM2 16h1v1h-1zM11 16h1v1h-1zM0 17h1v1h-1zM3 17h2v1h-2zM6 17h2v1h-2zM9 17h1v1h-1zM0 18h1v1h-1zM2 18h1v1h-1z"/>
<path class="hl" d="M1 -5.756V0M2 -5.756V0M3 -5.756V0M4 -5.756V0M5 -5.756V0M6 -5.756V0M7 -5.756V0M8 -5.756V0M9 -5.756V0M10 -5.756V0M11 -5.756V0M12 -5.756V0"/>
<path class="ml" d="M0 -8.042H13M0 -5.756H13M4 -8.042V-5.756M9 -8.042V-5.756"/>
<path class="gl" d="M0 0V19M1 0V19M2 0V19M3 0V19M4 0V19M5 0V19M6 0V19M7 0V19M8 0V19M9 0V19M10 0V19M11 0V19M12 0V19M13 0V19M0 0H13M0 1H13M0 2H13M0 3H13M0 4H13M0 5H13M0 6H13M0 7H13M0 8H13M0 9H13M0 10H13M0 11H13M0 12H13M0 13H13M0 14H13M0 15H13M0 16H13M0 17H13M0 18H13M0 19H13"/>
</g>
</g>

<g id="frame" fill="none" stroke="#2b2b2b">
<path stroke-width="1.6" d="M5 60V653.3H1118V60M25 63V653.3M218 63V653.3M433 63V653.3M710 63V653.3M984 63V653.3"/>
<path stroke-width="1" d="M5 166H25M5 279.3H25"/>
</g>

<g id="legend">
<rect x="45" y="668" width="10" height="12" class="R" stroke="#333" stroke-width="0.8"/>
<rect x="45" y="681" width="10" height="12" class="P" stroke="#333" stroke-width="0.8"/>
<text class="leg" x="59" y="678">強い関連のある学問領域</text>
<text class="leg" x="59" y="692">関連のある学問領域</text>
<rect x="240" y="668" width="10" height="12" class="O" stroke="#333" stroke-width="0.8"/>
<rect x="240" y="681" width="10" height="12" class="L" stroke="#333" stroke-width="0.8"/>
<text class="leg" x="254" y="678">強い関連のあるキーワード</text>
<text class="leg" x="254" y="692">関連のあるキーワード</text>
<rect x="619" y="667" width="42" height="13" class="Y" stroke="#333" stroke-width="0.8"/>
<rect x="619" y="680" width="42" height="13" class="Ol" stroke="#333" stroke-width="0.8"/>
<rect x="619" y="693" width="42" height="13" class="Gd" stroke="#333" stroke-width="0.8"/>
<text class="leg" x="666" y="677.5">これからの重要領域</text>
<text class="leg" x="666" y="691.2">既に進行中の重要領域</text>
<text class="leg" x="666" y="705">継続的に重要な領域</text>
<rect x="772" y="667" width="10" height="13" class="B" stroke="#333" stroke-width="0.8"/>
<rect x="772" y="680" width="10" height="13" class="C" stroke="#333" stroke-width="0.8"/>
<text class="leg" x="786" y="677.5">研究に不可欠な技術・手法</text>
<text class="leg" x="786" y="691.2">現在はまだ関連性が低いが今後重要になる技術</text>
<rect x="998" y="667" width="9" height="13" class="G" stroke="#333" stroke-width="0.8"/>
<rect x="998" y="680" width="9" height="13" class="g" stroke="#333" stroke-width="0.8"/>
<text x="1009" y="677" font-size="8.2" font-weight="700" fill="#222">強い関連のある重要領域</text>
<text x="1009" y="690.5" font-size="8.2" font-weight="700" fill="#222">関連のある重要領域</text>
</g>
<g id="footnote">
<text x="43" y="724" font-size="8" fill="#444">*</text>
<text x="50" y="732" font-size="11.5" fill="#444">BOB等によるファンディング状況、主要論分数等の数値化データを任意に挿入して研究動向を定量的に把握する</text>
</g>

<g id="highlight-arrow">
<path d="M7 419.5H1117L1135 437.5L1117 456.5H7Z" fill="none" stroke="#e8262b" stroke-width="7.5" stroke-linejoin="miter"/>
</g>
</svg>
